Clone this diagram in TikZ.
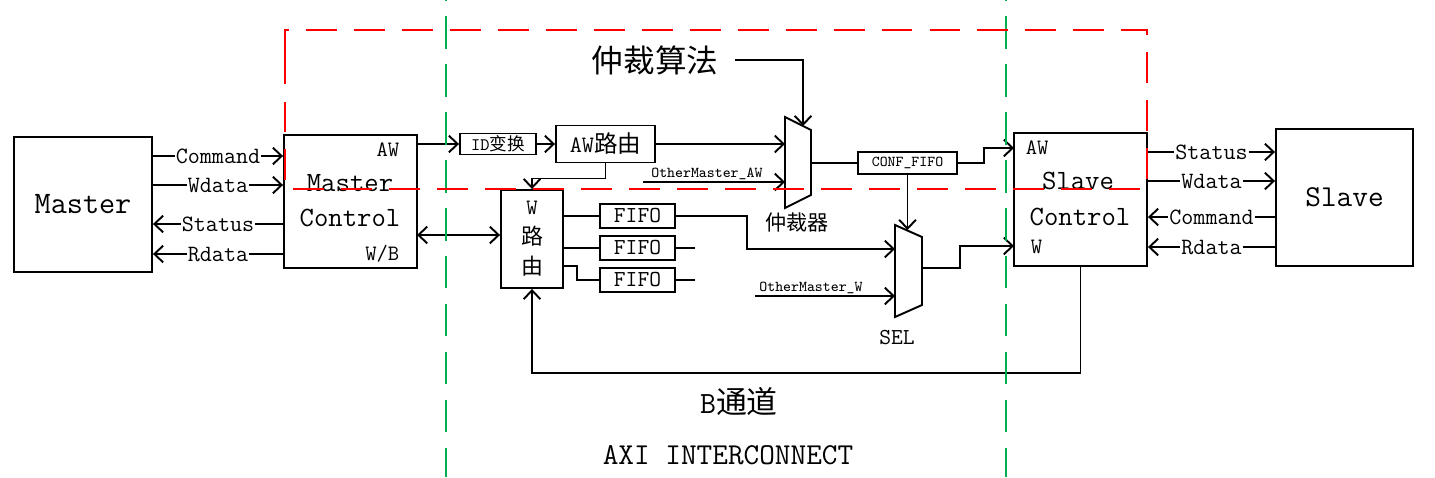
\documentclass[tikz,border=0pt]{standalone}
\usepackage{fontspec}
\newfontfamily\cjk{Noto Sans CJK SC}
\usetikzlibrary{arrows.meta}
\newcommand{\fs}[1]{\fontsize{#1}{#1}\selectfont\ttfamily}
\definecolor{zone}{RGB}{0,176,80}
\tikzset{
  blk/.style = {draw, line width=1.1pt, inner sep=0pt},
  sig/.style = {fill=white, inner sep=0.6pt, font=\fs{13.3}},
  tiny/.style = {font=\fs{8.6}, inner sep=1pt},
  redline/.style = {red, line width=1.1pt, dash pattern=on 17.6pt off 9.7pt},
  greenline/.style = {zone, line width=1.1pt, dash pattern=on 18.5pt off 8.8pt, dash phase=9pt}
}

\begin{document}
\begin{tikzpicture}[x=0.02cm, y=-0.02cm, line width=1.1pt, >={Straight Barb[length=5pt,width=9.5pt]}]
\useasboundingbox (0,0) rectangle (1435,477);

\node[blk, minimum width=2.76cm, minimum height=2.70cm, font=\fs{17.8}] (master) at (83,204.5) {Master};
\node[blk, minimum width=2.66cm, minimum height=2.66cm] (mc) at (350.5,201.5) {};
\node[blk, minimum width=2.66cm, minimum height=2.66cm] (sc) at (1080.5,199.5) {};
\node[blk, minimum width=2.74cm, minimum height=2.74cm, font=\fs{17.3}] (slave) at (1344.5,197.5) {Slave};

\node[font=\fs{12.5}, anchor=east] (mcaw) at (406,150) {AW};
\node[font=\fs{15.9}] (mcm) at (350,183) {Master};
\node[font=\fs{15.9}] (mcc) at (350,218) {Control};
\node[font=\fs{12.5}, anchor=east] (mcwb) at (406,254) {W/B};
\node[font=\fs{12.5}, anchor=west] (scaw) at (1019,148) {AW};
\node[font=\fs{15.9}] (scs) at (1078,181) {Slave};
\node[font=\fs{15.9}] (scc) at (1080,217) {Control};
\node[font=\fs{12.5}, anchor=west] (scw) at (1024,247) {W};

\node[blk, minimum width=1.52cm, minimum height=0.42cm, font=\fs{10}] (idc) at (498,144) {ID{\cjk 变换}};
\node[blk, minimum width=1.98cm, minimum height=0.74cm, font=\fs{13.4}] (awr) at (605.5,144) {AW{\cjk 路由}};
\node[blk, minimum width=1.24cm, minimum height=1.96cm, align=center, font=\fontsize{12.5}{17}\selectfont\ttfamily] (wr) at (532,239) {W\\{\cjk 路}\\{\cjk 由}};
\node[blk, minimum width=1.5cm, minimum height=0.48cm, font=\fs{13}] (fifo1) at (637.5,216) {FIFO};
\node[blk, minimum width=1.5cm, minimum height=0.48cm, font=\fs{13}] (fifo2) at (637.5,248) {FIFO};
\node[blk, minimum width=1.5cm, minimum height=0.48cm, font=\fs{13}] (fifo3) at (637.5,280) {FIFO};
\node[blk, minimum width=1.98cm, minimum height=0.44cm, font=\fs{8.6}] (conf) at (907.5,163) {CONF\_FIFO};

\coordinate (arbtl) at (785,117);
\coordinate (arbtr) at (811,130);
\coordinate (arbbr) at (811,195);
\coordinate (arbbl) at (785,208);
\draw (arbtl) -- (arbtr) -- (arbbr) -- (arbbl) -- cycle;
\coordinate (seltl) at (895,225);
\coordinate (seltr) at (922,237);
\coordinate (selbr) at (922,305);
\coordinate (selbl) at (895,317);
\draw (seltl) -- (seltr) -- (selbr) -- (selbl) -- cycle;

\node[font=\fs{18}\cjk] (algo) at (655,60) {仲裁算法};
\node[font=\fs{12}\cjk] (arbname) at (797,222) {仲裁器};
\node[font=\fs{13}] (selname) at (897,338) {SEL};
\node[font=\fs{17.6}] (bch) at (739,402) {B{\cjk 通道}};
\node[font=\fs{17.3}] (axi) at (728,455) {AXI INTERCONNECT};

\foreach \y/\t in {156/Command, 185/Wdata}
  \draw[->] (master.east |- 0,\y) -- node[sig]{\t} (mc.west |- 0,\y);
\foreach \y/\t in {224/Status, 254/Rdata}
  \draw[<-] (master.east |- 0,\y) -- node[sig]{\t} (mc.west |- 0,\y);
\foreach \y/\t in {152/Status, 181/Wdata}
  \draw[->] (sc.east |- 0,\y) -- node[sig]{\t} (slave.west |- 0,\y);
\foreach \y/\t in {217/Command, 247/Rdata}
  \draw[<-] (sc.east |- 0,\y) -- node[sig]{\t} (slave.west |- 0,\y);

\coordinate (mcout) at (417,144);
\coordinate (wb) at (417,235);
\coordinate (omaw) at (643,182);
\coordinate (omw) at (755,296);
\coordinate (arbtop) at (803,126);
\coordinate (algoout) at (735,60);
\coordinate (arbout) at (811,163);
\coordinate (seltop) at (906,230);
\coordinate (selin) at (895,249);
\coordinate (selout) at (922,268);
\coordinate (scin) at (1014,148);
\coordinate (scwin) at (1014,246);

\draw[->] (mcout) -- (idc.west);
\draw[->] (idc.east) -- (awr.west);
\draw[->] (awr.east) -- (awr.east -| arbtl);
\draw[->] (omaw) -- node[tiny, above, pos=0.45]{OtherMaster\_AW} (omaw -| arbtl);
\draw[->] (algoout) -| (arbtop);
\draw (arbout) -- (conf.west);
\draw[->] (conf.east) -- ++(26,0) |- (scin);
\draw[->] (conf.south) -- (conf.south |- seltop);
\draw[->] (awr.south) -- ++(0,15) -| (wr.north);
\draw[<->] (wb) -- (wb -| wr.west);
\draw (wr.east |- fifo1) -- (fifo1.west);
\draw (wr.east |- fifo2) -- (fifo2.west);
\draw (wr.east |- 0,266) -- (577,266) |- (fifo3.west);
\draw[->] (fifo1.east) -- ++(71,0) |- (selin);
\draw (fifo2.east) -- ++(19,0);
\draw (fifo3.east) -- ++(19,0);
\draw[->] (omw) -- node[tiny, above, pos=0.4]{OtherMaster\_W} (omw -| selbl);
\draw[->] (selout) -- ++(38,0) |- (scwin);
\draw[->] (sc.south) -- ++(0,106) -| (wr.south);

\draw[greenline] (446,-16) -- (446,477);
\draw[greenline] (1006,-16) -- (1006,477);
\draw[redline] (285,57) -- (285,30) -- (1147,30) -- (1147,189) -- (285,189) -- cycle;
\end{tikzpicture}
\end{document}
